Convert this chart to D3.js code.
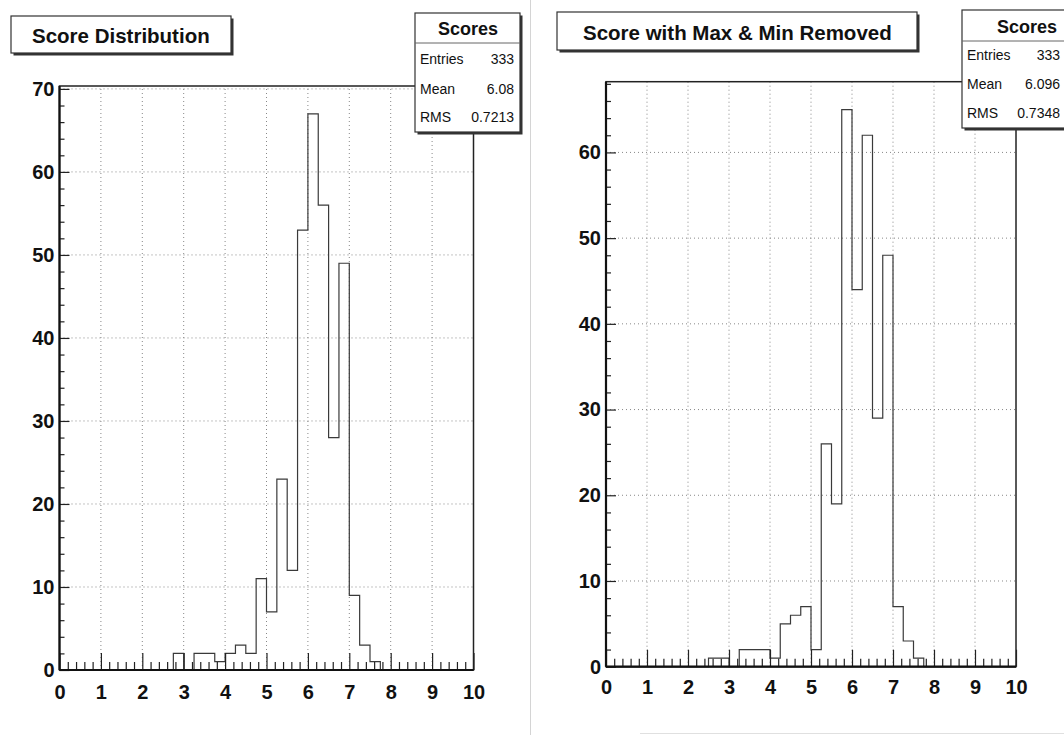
<!DOCTYPE html>
<html>
<head>
<meta charset="utf-8">
<script src="https://cdn.jsdelivr.net/npm/d3@7"></script>
<style>
  body { margin: 0; background: #fff; }
  text { font-family: "Liberation Sans", Arial, sans-serif; fill: #111; }
</style>
</head>
<body>
<svg id="chart" width="1064" height="735"></svg>
<script>
// bins of width 0.25 from 0 to 10 (40 bins)
const binWidth = 0.25;
const countsAll = [
  0, 0, 0, 0, 0, 0, 0, 0, 0, 0,
  0, 2, 0, 2, 2, 1, 2, 3, 2, 11,
  7, 23, 12, 53, 67, 56, 28, 49, 9, 3,
  1, 0, 0, 0, 0, 0, 0, 0, 0, 0
];
const countsTrimmed = [
  0, 0, 0, 0, 0, 0, 0, 0, 0, 0,
  1, 1, 0, 2, 2, 2, 1, 5, 6, 7,
  2, 26, 19, 65, 44, 62, 29, 48, 7, 3,
  1, 0, 0, 0, 0, 0, 0, 0, 0, 0
];
const xTicks = [0, 1, 2, 3, 4, 5, 6, 7, 8, 9, 10];
const yTicksLeft = [0, 10, 20, 30, 40, 50, 60, 70];
const yTicksRight = [0, 10, 20, 30, 40, 50, 60];
const statLabels = ["Entries", "Mean", "RMS"];
const statsLeft = ["333", "6.08", "0.7213"];
const statsRight = ["333", "6.096", "0.7348"];
const titles = ["Score Distribution", "Score with Max & Min Removed"];
const statsTitle = "Scores";

const svg = d3.select("#chart");

// faint page edges from the scan
svg.append("line").attr("x1", 530.5).attr("x2", 530.5).attr("y1", 0).attr("y2", 735)
  .attr("stroke", "#d4d4d4").attr("stroke-width", 1);
svg.append("line").attr("x1", 640).attr("x2", 1064).attr("y1", 733.5).attr("y2", 733.5)
  .attr("stroke", "#e0e0e0").attr("stroke-width", 1);

const panels = [
  {
    counts: countsAll, yTicks: yTicksLeft, yMax: 70.35, stats: statsLeft, title: titles[0],
    x0: 59.5, x1: 473.5, yb: 670, yt: 86, labelPad: 15,
    titleBox: [11, 16, 220, 37], titleX: 32, titleY: 43,
    statBox: [415, 13, 105, 119], divY: 43, rowY: [59, 89, 117], statsCx: 468
  },
  {
    counts: countsTrimmed, yTicks: yTicksRight, yMax: 68.25, stats: statsRight, title: titles[1],
    x0: 606, x1: 1016, yb: 666.7, yt: 81.7, labelPad: 13,
    titleBox: [557, 12, 360, 38], titleX: 583, titleY: 39.5,
    statBox: [962, 10, 110, 118], divY: 41, rowY: [55, 84, 113], statsCx: 1027
  }
];

function drawPanel(p) {
  const g = svg.append("g");
  const x = d3.scaleLinear().domain([0, 10]).range([p.x0, p.x1]);
  const y = d3.scaleLinear().domain([0, p.yMax]).range([p.yb, p.yt]);

  // dotted grid
  g.append("g").selectAll("line")
    .data(xTicks.slice(1, -1))
    .join("line")
    .attr("x1", d => x(d)).attr("x2", d => x(d))
    .attr("y1", p.yb).attr("y2", p.yt)
    .attr("stroke", "#888").attr("stroke-width", 1).attr("stroke-dasharray", "1,3");
  g.append("g").selectAll("line")
    .data(p.yTicks.slice(1))
    .join("line")
    .attr("x1", p.x0).attr("x2", p.x1)
    .attr("y1", d => y(d)).attr("y2", d => y(d))
    .attr("stroke", "#888").attr("stroke-width", 1).attr("stroke-dasharray", "1,3");

  // histogram outline
  const pts = [[0, 0]];
  p.counts.forEach((c, i) => {
    pts.push([i * binWidth, c]);
    pts.push([(i + 1) * binWidth, c]);
  });
  pts.push([10, 0]);
  g.append("path")
    .attr("d", d3.line().x(d => x(d[0])).y(d => y(d[1]))(pts))
    .attr("fill", "none").attr("stroke", "#3a3a3a").attr("stroke-width", 1.2);

  // frame
  g.append("rect")
    .attr("x", p.x0).attr("y", p.yt)
    .attr("width", p.x1 - p.x0).attr("height", p.yb - p.yt)
    .attr("fill", "none").attr("stroke", "#222").attr("stroke-width", 1.5);

  // x axis: minor and major ticks pointing inward
  const minorX = [];
  xTicks.slice(0, -1).forEach(t => [0.2, 0.4, 0.6, 0.8].forEach(f => minorX.push(t + f)));
  g.append("g").attr("transform", `translate(0,${p.yb})`)
    .call(d3.axisBottom(x).tickValues(minorX).tickSize(-8).tickFormat(""))
    .call(a => a.select(".domain").remove());
  g.append("g").attr("transform", `translate(0,${p.yb})`)
    .call(d3.axisBottom(x).tickValues(xTicks).tickSize(-17).tickPadding(p.labelPad).tickFormat(d3.format("d")))
    .call(a => a.select(".domain").remove())
    .call(a => a.selectAll("text").attr("font-size", 20).attr("font-weight", "bold").attr("fill", "#111"));

  // y axis
  const minorY = [];
  for (let v = 2; v < p.yMax; v += 2) if (v % 10 !== 0) minorY.push(v);
  g.append("g").attr("transform", `translate(${p.x0},0)`)
    .call(d3.axisLeft(y).tickValues(minorY).tickSize(-5).tickFormat(""))
    .call(a => a.select(".domain").remove());
  g.append("g").attr("transform", `translate(${p.x0},0)`)
    .call(d3.axisLeft(y).tickValues(p.yTicks).tickSize(-10).tickPadding(5).tickFormat(d3.format("d")))
    .call(a => a.select(".domain").remove())
    .call(a => a.selectAll("text").attr("font-size", 20).attr("font-weight", "bold").attr("fill", "#111"));

  g.selectAll(".tick line").attr("stroke", "#222").attr("stroke-width", 1.2);

  // thick axis lines
  g.append("line").attr("x1", p.x0).attr("x2", p.x1).attr("y1", p.yb).attr("y2", p.yb)
    .attr("stroke", "#111").attr("stroke-width", 2.2);
  g.append("line").attr("x1", p.x0).attr("x2", p.x0).attr("y1", p.yb).attr("y2", p.yt)
    .attr("stroke", "#111").attr("stroke-width", 2.2);

  // title box with shadow
  const [tx, ty, tw, th] = p.titleBox;
  g.append("rect").attr("x", tx + 2.5).attr("y", ty + 2.5).attr("width", tw).attr("height", th).attr("fill", "#333");
  g.append("rect").attr("x", tx).attr("y", ty).attr("width", tw).attr("height", th)
    .attr("fill", "#fff").attr("stroke", "#333").attr("stroke-width", 1.2);
  g.append("text").attr("x", p.titleX).attr("y", p.titleY)
    .attr("font-size", 20.5).attr("font-weight", "bold").text(p.title);

  // stats box
  const [sx, sy, sw, sh] = p.statBox;
  g.append("rect").attr("x", sx + 2.5).attr("y", sy + 2.5).attr("width", sw).attr("height", sh).attr("fill", "#333");
  g.append("rect").attr("x", sx).attr("y", sy).attr("width", sw).attr("height", sh)
    .attr("fill", "#fff").attr("stroke", "#333").attr("stroke-width", 1.2);
  g.append("line").attr("x1", sx).attr("x2", sx + sw).attr("y1", p.divY).attr("y2", p.divY)
    .attr("stroke", "#666").attr("stroke-width", 1);
  g.append("text").attr("x", p.statsCx).attr("y", p.divY - 8)
    .attr("text-anchor", "middle").attr("font-size", 18).attr("font-weight", "bold").text(statsTitle);
  const right = Math.min(sx + sw - 6, 1060);
  g.append("g").selectAll("text")
    .data(statLabels)
    .join("text")
    .attr("x", sx + 5).attr("y", (d, i) => p.rowY[i]).attr("dy", "0.35em")
    .attr("font-size", 14).text(d => d);
  g.append("g").selectAll("text")
    .data(p.stats)
    .join("text")
    .attr("x", right).attr("y", (d, i) => p.rowY[i]).attr("dy", "0.35em")
    .attr("text-anchor", "end").attr("font-size", 14).text(d => d);
}

panels.forEach(drawPanel);
</script>
</body>
</html>
